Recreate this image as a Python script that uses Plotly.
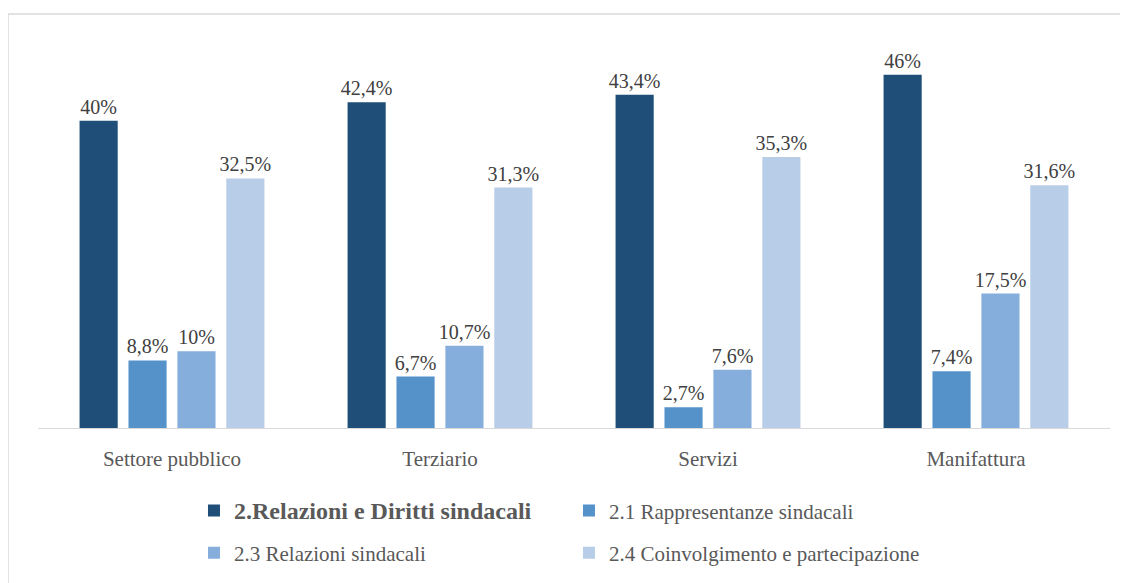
import plotly.graph_objects as go

categories = ["Settore pubblico", "Terziario", "Servizi", "Manifattura"]
series_names = [
    "<b><span style='font-size:24px'>2.Relazioni e Diritti sindacali</span></b>",
    "2.1 Rappresentanze sindacali",
    "2.3 Relazioni sindacali",
    "2.4 Coinvolgimento e partecipazione",
]
relazioni_diritti = [40.0, 42.4, 43.4, 46.0]
rappresentanze = [8.8, 6.7, 2.7, 7.4]
relazioni = [10.0, 10.7, 7.6, 17.5]
coinvolgimento = [32.5, 31.3, 35.3, 31.6]
colors = ["#1F4E79", "#5592C9", "#86AEDC", "#B8CDE7"]
legend_ids = ["legend", "legend", "legend2", "legend2"]

FONT = "Liberation Serif"


def pct(v):
    s = f"{v:.1f}".replace(".", ",")
    if s.endswith(",0"):
        s = s[:-2]
    return s + "%"


fig = go.Figure()
all_series = [relazioni_diritti, rappresentanze, relazioni, coinvolgimento]
for name, values, color, leg in zip(series_names, all_series, colors, legend_ids):
    fig.add_bar(
        x=categories,
        y=values,
        name=name,
        marker={"color": color, "line": {"width": 0}},
        text=[pct(v) for v in values],
        textposition="outside",
        constraintext="none",
        textfont={"family": FONT, "size": 20, "color": "#404040"},
        cliponaxis=False,
        legend=leg,
    )

legend_style = {
    "orientation": "h",
    "xanchor": "left",
    "yanchor": "middle",
    "x": 0.1455,
    "entrywidth": 330,
    "font": {"family": FONT, "size": 21, "color": "#595959"},
    "bgcolor": "rgba(0,0,0,0)",
    "traceorder": "normal",
}

# the page body adds an 8px margin, so the margins below are shifted to compensate
fig.update_layout(
    width=1128,
    height=583,
    margin={"l": 30, "r": 26, "t": 36, "b": 163},
    paper_bgcolor="white",
    plot_bgcolor="white",
    barmode="group",
    bargap=0.27,
    bargroupgap=0.22,
    font={"family": FONT, "color": "#595959"},
    legend={**legend_style, "y": -0.216},
    legend2={**legend_style, "y": -0.3255},
    xaxis={
        "showline": True,
        "linecolor": "#D9D9D9",
        "linewidth": 1,
        "ticks": "outside",
        "ticklen": 12,
        "tickcolor": "rgba(0,0,0,0)",
        "tickfont": {"family": FONT, "size": 21, "color": "#595959"},
        "showgrid": False,
        "fixedrange": True,
    },
    yaxis={
        "range": [0, 50],
        "visible": False,
        "showgrid": False,
        "fixedrange": True,
    },
    shapes=[
        {
            "type": "rect",
            "xref": "paper",
            "yref": "paper",
            "x0": -0.028,
            "x1": 1.03,
            "y0": -0.45,
            "y1": 1.078,
            "line": {"color": "#D9D9D9", "width": 1.5},
            "layer": "below",
        }
    ],
)

fig.write_html("out.html")
